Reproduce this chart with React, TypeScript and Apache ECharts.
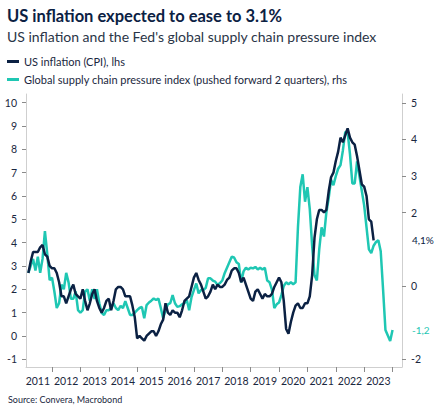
import React, { useEffect, useRef } from 'react';
import * as echarts from 'echarts';

const TITLE = 'US inflation expected to ease to 3.1%';
const SUBTITLE = "US inflation and the Fed's global supply chain pressure index";
const SOURCE = 'Source: Convera, Macrobond';
const CPI_NAME = 'US inflation (CPI), lhs';
const GSCPI_NAME = 'Global supply chain pressure index (pushed forward 2 quarters), rhs';

// Monthly category axis: Feb 2011 .. May 2024
const AXIS_START_YEAR = 2011;
const AXIS_START_MONTH = 2;
const AXIS_MONTH_COUNT = 160;
const months: string[] = [];
for (let k = 0; k < AXIS_MONTH_COUNT; k++) {
  const m = AXIS_START_MONTH - 1 + k;
  const y = AXIS_START_YEAR + Math.floor(m / 12);
  const mm = (m % 12) + 1;
  months.push(`${y}-${String(mm).padStart(2, '0')}`);
}

// US CPI y/y %, monthly from Mar 2011 to May 2023 (lhs)
const CPI_START = '2011-03';
const cpi = [
  2.7, 3.2, 3.6, 3.6, 3.6, 3.8, 3.9, 3.5, 3.4, 3.0,
  2.9, 2.9, 2.7, 2.3, 1.7, 1.7, 1.4, 1.7, 2.0, 2.2, 1.8, 1.7,
  1.6, 2.0, 1.5, 1.1, 1.4, 1.8, 2.0, 1.5, 1.2, 1.0, 1.2, 1.5,
  1.6, 1.1, 1.5, 2.0, 2.1, 2.1, 2.0, 1.7, 1.7, 1.7, 1.3, 0.8,
  -0.1, 0.0, -0.1, -0.2, 0.0, 0.1, 0.2, 0.2, 0.0, 0.2, 0.5, 0.7,
  1.4, 1.0, 0.9, 1.1, 1.0, 1.0, 0.8, 1.1, 1.5, 1.6, 1.7, 2.1,
  2.5, 2.7, 2.4, 2.2, 1.9, 1.6, 1.7, 1.9, 2.2, 2.0, 2.2, 2.1,
  2.1, 2.2, 2.4, 2.5, 2.8, 2.9, 2.9, 2.7, 2.3, 2.5, 2.2, 1.9,
  1.6, 1.5, 1.9, 2.0, 1.8, 1.6, 1.8, 1.7, 1.7, 1.8, 2.1, 2.3,
  2.5, 2.3, 1.5, 0.3, 0.1, 0.6, 1.0, 1.3, 1.4, 1.2, 1.2, 1.4,
  1.4, 1.7, 2.6, 4.2, 5.0, 5.4, 5.4, 5.3, 5.4, 6.2, 6.8, 7.0,
  7.5, 7.9, 8.5, 8.3, 8.6, 8.9, 8.5, 8.3, 8.2, 7.7, 7.1, 6.5,
  6.4, 6.0, 5.0, 4.9, 4.1,
];

// Global supply chain pressure index, pushed forward 6 months, Mar 2011 to Jan 2024 (rhs)
const GSCPI_START = '2011-03';
const gscpi = [
  0.36, 0.55, 0.74, 0.42, 0.80, 0.36, 0.74, 1.50, 0.87, 0.16,
  0.23, -0.15, -0.60, -0.47, 0.04, -0.09, 0.36, 0.10, -0.35, -0.35, -0.15, -0.66,
  -0.73, -0.66, -0.15, -0.09, -0.41, -0.09, -0.35, -0.09, -0.47, -0.73, -0.79, -0.66,
  -0.66, -0.60, -0.47, -0.60, -0.66, -0.54, -0.60, -0.41, -0.60, -0.79, -0.79, -0.73,
  -0.66, -0.60, -0.57, -0.88, -0.52, -0.45, -0.40, -0.34, -0.38, -0.34, -0.60, -0.88,
  -0.66, -0.50, -0.47, -0.25, -0.47, -0.57, -0.55, -0.50, -0.47, -0.38, -0.66, -0.30,
  -0.11, 0.07, -0.20, -0.11, -0.11, -0.05, 0.21, 0.21, 0.15, 0.12, 0.03, 0.08,
  0.15, 0.35, 0.50, 0.65, 0.80, 0.78, 0.65, 0.60, 0.10, 0.40, 0.50, 0.45,
  0.50, 0.48, 0.52, 0.45, 0.50, 0.45, 0.50, 0.15, 0.10, -0.10, -0.60, -0.50,
  -0.45, -0.25, 0.00, 0.10, 0.05, 0.10, 0.05, 0.10, 1.60, 2.70, 3.05, 2.30,
  2.70, 2.10, 1.10, 0.30, 0.15, 1.00, 1.60, 1.35, 2.00, 2.40, 2.90, 2.75,
  3.00, 3.20, 3.30, 3.70, 4.20, 4.20, 3.60, 2.80, 2.80, 3.40, 3.00, 2.60,
  2.20, 1.60, 1.00, 0.90, 1.10, 1.20, 1.25, 0.95, -0.10, -1.20, -1.35, -1.50,
  -1.20,
];

const leftTicks = [-1, 0, 1, 2, 3, 4, 5, 6, 7, 8, 9, 10];
// rhs labels 1 and -1 are covered by the end-value labels in the reference
const rightLabels = [-2, 0, 2, 3, 4, 5];
const rightTickMarks = [-2, 0, 2, 3, 4, 5];

const NAVY = '#0b2143';
const TEAL = '#1fc7b3';
const TEXT = '#1a2740';
const FONT = 'Lato';

function align(values: number[], start: string): (number | null)[] {
  const off = months.indexOf(start);
  return months.map((_, i) => {
    const k = i - off;
    return k >= 0 && k < values.length ? values[k] : null;
  });
}

const fmtComma = (v: number, pct: boolean) =>
  v.toFixed(1).replace('.', ',') + (pct ? '%' : '');

export default function App() {
  const ref = useRef<HTMLDivElement>(null);
  useEffect(() => {
    if (!ref.current) return;
    const chart = echarts.init(ref.current, undefined, { renderer: 'svg' });
    const lastCpi = cpi[cpi.length - 1];
    const lastG = gscpi[gscpi.length - 1];
    const endLabel = (text: string, color: string) => ({
      show: true,
      position: 'end',
      distance: 9,
      formatter: () => text,
      color,
      fontFamily: FONT,
      fontSize: 10,
      backgroundColor: '#ffffff',
      padding: [2, 2, 2, 1],
    });
    chart.setOption({
      animation: false,
      backgroundColor: '#ffffff',
      textStyle: { fontFamily: FONT },
      title: {
        text: TITLE,
        subtext: SUBTITLE,
        left: 7,
        top: 6,
        padding: 0,
        itemGap: 1,
        textStyle: { fontFamily: FONT, fontWeight: 'bold', fontSize: 16.5, color: NAVY, lineHeight: 20 },
        subtextStyle: { fontFamily: FONT, fontSize: 14, color: '#2a3547', lineHeight: 18 },
      },
      legend: {
        orient: 'vertical',
        left: 7,
        top: 55,
        padding: 0,
        itemGap: 5,
        itemWidth: 12,
        itemHeight: 3,
        icon: 'rect',
        data: [CPI_NAME, GSCPI_NAME],
        textStyle: { fontFamily: FONT, fontSize: 11, color: TEXT, lineHeight: 13 },
      },
      grid: { left: 26, right: 43, top: 94, bottom: 49, containLabel: false },
      xAxis: {
        type: 'category',
        data: months,
        boundaryGap: false,
        axisLine: { onZero: false, lineStyle: { color: '#cfcfcf', width: 1 } },
        axisTick: {
          show: true,
          length: 5,
          interval: (_i: number, v: string) => v.endsWith('-01'),
          lineStyle: { color: '#8a8a8a' },
        },
        axisLabel: {
          interval: (_i: number, v: string) => v.endsWith('-07'),
          formatter: (v: string) => v.slice(0, 4),
          margin: 8,
          fontFamily: FONT,
          fontSize: 10.5,
          color: TEXT,
          hideOverlap: false,
        },
        splitLine: { show: false },
      },
      yAxis: [
        {
          type: 'value',
          position: 'left',
          min: -1.33,
          max: 10.37,
          axisLine: { show: true, lineStyle: { color: '#cfcfcf' } },
          axisTick: { show: true, length: 4, customValues: leftTicks, lineStyle: { color: '#8a8a8a' } },
          axisLabel: { customValues: leftTicks, margin: 9, fontFamily: FONT, fontSize: 10.5, color: TEXT },
          splitLine: { show: false },
        },
        {
          type: 'value',
          position: 'right',
          min: -2.21,
          max: 5.24,
          axisLine: { show: true, lineStyle: { color: '#cfcfcf' } },
          axisTick: { show: true, length: 4, customValues: rightTickMarks, lineStyle: { color: '#8a8a8a' } },
          axisLabel: { customValues: rightLabels, margin: 9, fontFamily: FONT, fontSize: 10.5, color: TEXT },
          splitLine: { show: false },
        },
      ],
      series: [
        {
          name: GSCPI_NAME,
          type: 'line',
          yAxisIndex: 1,
          data: align(gscpi, GSCPI_START),
          showSymbol: false,
          symbol: 'none',
          lineStyle: { color: TEAL, width: 2.5 },
          itemStyle: { color: TEAL },
          z: 2,
          markLine: {
            silent: true,
            symbol: 'none',
            lineStyle: { color: 'rgba(0,0,0,0)', width: 0, type: 'solid' },
            data: [{ yAxis: lastG }],
            label: endLabel(fmtComma(lastG, false), TEAL),
          },
        },
        {
          name: CPI_NAME,
          type: 'line',
          yAxisIndex: 0,
          data: align(cpi, CPI_START),
          showSymbol: false,
          symbol: 'none',
          lineStyle: { color: NAVY, width: 2.5 },
          itemStyle: { color: NAVY },
          z: 3,
          markLine: {
            silent: true,
            symbol: 'none',
            lineStyle: { color: 'rgba(0,0,0,0)', width: 0, type: 'solid' },
            data: [{ yAxis: lastCpi }],
            label: endLabel(fmtComma(lastCpi, true), NAVY),
          },
        },
      ],
      graphic: [
        {
          type: 'text',
          left: 8,
          top: 395,
          style: { text: SOURCE, fontFamily: FONT, fontSize: 9, fill: TEXT },
        },
      ],
    });
    return () => chart.dispose();
  }, []);
  return (
    <div
      ref={ref}
      style={{ position: 'fixed', left: 0, top: 0, width: 445, height: 416, background: '#fff' }}
    />
  );
}
